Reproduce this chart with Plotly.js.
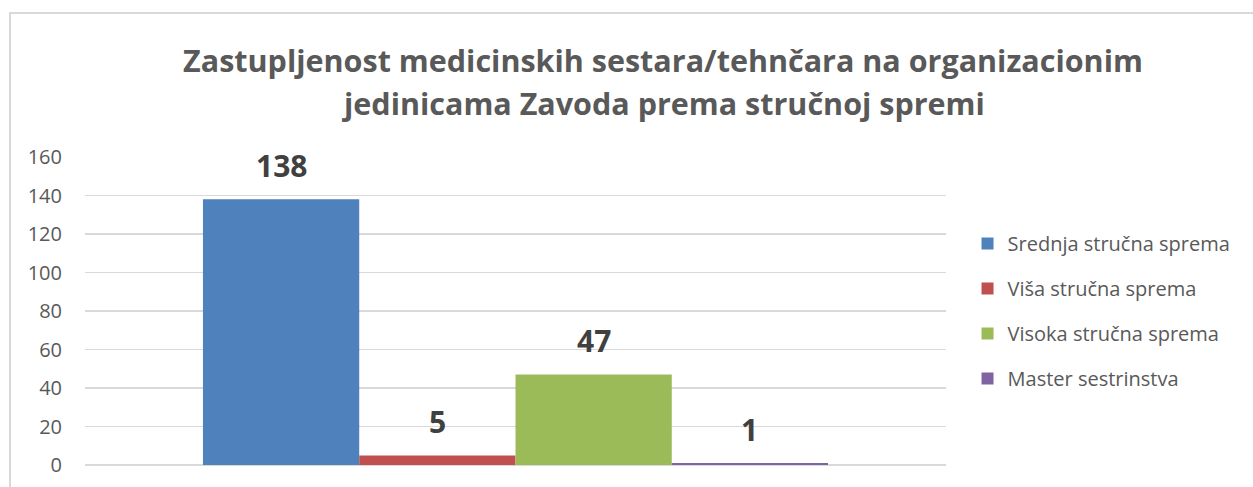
<!DOCTYPE html>
<html>
<head>
<meta charset="utf-8">
<script src="https://cdn.plot.ly/plotly-3.0.1.min.js"></script>
<style>
html,body{margin:0;padding:0;background:#fff;overflow:hidden;}
#chart{width:1253px;height:487px;position:relative;}
#frame{position:absolute;left:9px;top:12px;width:1400px;height:700px;border:2px solid #d9d9d9;box-sizing:border-box;pointer-events:none;}
</style>
</head>
<body>
<div id="chart"></div>
<div id="frame"></div>
<script>
const categories = [""];
const seriesNames = ["Srednja stručna sprema", "Viša stručna sprema", "Visoka stručna sprema", "Master sestrinstva"];
const seriesValues = [[138], [5], [47], [1]];
const seriesColors = ["#4F81BD", "#C0504D", "#9BBB59", "#8064A2"];
const yTicks = [0, 20, 40, 60, 80, 100, 120, 140, 160];
const titleLines = ["Zastupljenost medicinskih sestara/tehnčara na organizacionim", "jedinicama Zavoda prema stručnoj spremi"];

const BARGAP = 0.274;
const FONT = "'Open Sans', sans-serif";

const traces = seriesNames.map((name, i) => ({
  type: "bar",
  name: name,
  x: categories,
  y: seriesValues[i],
  marker: {color: seriesColors[i]},
  legendgroup: "g" + i,
  hoverinfo: "none"
}));

// data labels placed above each bar of the group (positions derived from bargap)
const nSeries = seriesNames.length;
const groupW = 1 - BARGAP;
const barW = groupW / nSeries;
const labelAnnotations = [];
seriesValues.forEach((vals, i) => {
  vals.forEach((v, c) => {
    labelAnnotations.push({
      xref: "x", yref: "y",
      x: c - groupW / 2 + barW * (i + 0.5),
      y: v,
      text: String(v),
      showarrow: false,
      xanchor: "center", yanchor: "middle",
      yshift: 34,
      font: {family: FONT, size: 30, color: "#404040", weight: "bold"}
    });
  });
});

const titleFont = {family: FONT, size: 30.5, color: "#595959", weight: "bold"};

const layout = {
  width: 1253,
  height: 487,
  paper_bgcolor: "#fff",
  plot_bgcolor: "#fff",
  margin: {l: 85, r: 307, t: 157, b: 22},
  barmode: "group",
  bargap: BARGAP,
  bargroupgap: 0,
  title: {
    text: titleLines[0],
    font: titleFont,
    x: 663 / 1253, xanchor: "center", xref: "container",
    y: 1 - 61 / 487, yanchor: "middle", yref: "container"
  },
  annotations: [
    {
      xref: "paper", yref: "paper",
      x: (663 - 85) / 861, y: (465 - 103) / 308,
      xanchor: "center", yanchor: "middle",
      text: titleLines[1], showarrow: false,
      font: titleFont
    }
  ].concat(labelAnnotations),
  xaxis: {
    showticklabels: false,
    showgrid: false,
    zeroline: false,
    showline: false,
    fixedrange: true
  },
  yaxis: {
    range: [0, 160],
    tickvals: yTicks,
    ticktext: yTicks.map(String),
    showgrid: true,
    gridcolor: "#d9d9d9",
    gridwidth: 1.5,
    zeroline: true,
    zerolinecolor: "#d9d9d9",
    zerolinewidth: 1.5,
    showline: false,
    ticks: "",
    ticklabelstandoff: 22,
    tickfont: {family: FONT, size: 20, color: "#595959"},
    fixedrange: true
  },
  legend: {
    x: 1.025, xanchor: "left",
    y: 0.5, yanchor: "middle",
    font: {family: FONT, size: 20, color: "#595959"},
    tracegroupgap: 16,
    traceorder: "grouped",
    bgcolor: "rgba(0,0,0,0)"
  },
  showlegend: true
};

Plotly.newPlot("chart", traces, layout, {displayModeBar: false, staticPlot: true});
</script>
</body>
</html>
